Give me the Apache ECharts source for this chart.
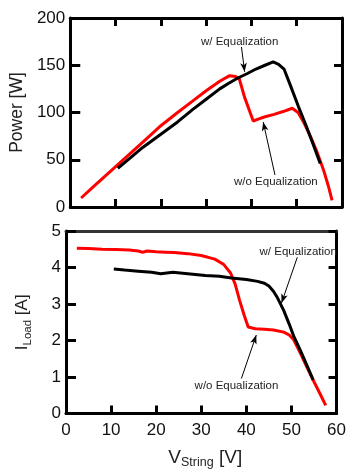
<!DOCTYPE html>
<html>
<head>
<meta charset="utf-8">
<script src="https://cdn.jsdelivr.net/npm/echarts@6/dist/echarts.min.js"></script>
<style>
  html, body {margin: 0; padding: 0; background: #fff;}
  #chart {width: 349px; height: 470px;}
</style>
</head>
<body>
<div id="chart"></div>
<script>
// power vs string voltage
const powerRedV = [2.4, 5, 8, 11, 14, 17, 20, 23.7, 27, 30, 33, 35.2, 36.5, 37.3, 38.5, 40.4, 41.5, 43, 45, 47, 49, 50.3, 51.5, 53, 54.5, 56, 57, 57.8];
const powerRedW = [9.5, 21, 34, 47, 60, 73, 86, 100, 112, 123, 133, 139, 138, 136, 116, 91, 93, 95.5, 98, 101, 104.5, 100, 90, 75, 58, 38, 22, 7];
const powerBlackV = [10.5, 13, 16, 20, 23.7, 27, 30, 33, 35, 37, 39, 41, 43, 44.8, 46, 47.2, 48.5, 50.4, 52, 53.5, 55.2];
const powerBlackW = [41, 51, 63, 77, 90, 103, 114, 125, 131, 136.5, 141, 146, 150, 153.5, 151, 146, 130, 106, 87, 68, 46];

// load current vs string voltage
const currRedV = [2.4, 5, 8, 11, 14, 16, 17, 18, 20, 22, 24, 27, 30, 33, 35, 36.5, 37.5, 38.5, 39.5, 40.4, 42, 44, 46, 48.3, 49.5, 50.5, 52, 53.5, 55, 56.5, 57.6];
const currRedA = [4.53, 4.52, 4.5, 4.49, 4.48, 4.45, 4.42, 4.45, 4.43, 4.42, 4.41, 4.38, 4.33, 4.23, 4.08, 3.85, 3.55, 3.1, 2.7, 2.37, 2.32, 2.31, 2.29, 2.23, 2.15, 2.02, 1.65, 1.25, 0.87, 0.5, 0.22];
const currBlackV = [10.6, 13, 16, 19, 21, 23.7, 27, 30.9, 34, 36.7, 40, 42.5, 44, 45, 46, 46.9, 48.3, 49.5, 50.5, 52, 53.5, 54.8];
const currBlackA = [3.96, 3.93, 3.9, 3.87, 3.83, 3.87, 3.83, 3.78, 3.76, 3.71, 3.67, 3.62, 3.57, 3.49, 3.35, 3.17, 2.82, 2.45, 2.12, 1.72, 1.3, 0.92];

const xTicks = [0, 10, 20, 30, 40, 50, 60];
const powerTicks = [0, 50, 100, 150, 200];
const currTicks = [0, 1, 2, 3, 4, 5];

const FONT = 'Liberation Sans, Arial, sans-serif';
const zip = (a, b) => a.map((v, i) => [v, b[i]]);

const chart = echarts.init(document.getElementById('chart'), null, {renderer: 'canvas'});

function xAxis(grid, pos, labels, ticks, color) {
  return {
    type: 'value', gridIndex: grid, position: pos,
    min: xTicks[0], max: xTicks[xTicks.length - 1], interval: 10,
    axisLine: {show: true, onZero: false, lineStyle: {color: color || '#000', width: 3}},
    axisTick: {show: ticks, inside: true, length: 8, lineStyle: {color: '#000', width: 3}},
    axisLabel: {show: labels, fontFamily: FONT, fontSize: 17, color: '#111', margin: 8},
    splitLine: {show: false},
  };
}
function yAxis(grid, pos, t, labels) {
  return {
    type: 'value', gridIndex: grid, position: pos,
    min: t[0], max: t[t.length - 1], interval: t[1] - t[0],
    axisLine: {show: true, onZero: false, lineStyle: {color: '#000', width: 3}},
    axisTick: {show: true, inside: true, length: pos === 'left' ? 10 : 8, lineStyle: {color: '#000', width: 3}},
    axisLabel: {show: labels, fontFamily: FONT, fontSize: 17, color: '#111', margin: 5},
    splitLine: {show: false},
  };
}

const arrow = (from, to) => [{coord: from}, {coord: to}];
const markLineStyle = {
  silent: true, animation: false, symbol: ['none', 'arrow'], symbolSize: [5, 9],
  lineStyle: {color: '#000', width: 1, type: 'solid'}, label: {show: false},
};
const note = (text, coord) => ({
  coord, symbol: 'circle', symbolSize: 0, value: text,
  label: {show: true, formatter: text, fontFamily: FONT, fontSize: 11.5, color: '#222', position: 'inside'},
});

const yTop = yAxis(0, 'left', powerTicks, true);
yTop.name = 'Power [W]';
yTop.nameLocation = 'middle';
yTop.nameGap = 33;
yTop.nameTextStyle = {fontFamily: FONT, fontSize: 17.5, color: '#222'};

const yBot = yAxis(1, 'left', currTicks, true);
yBot.name = '{i|I}{s|Load}{i| [A]}';
yBot.nameLocation = 'middle';
yBot.nameGap = 34;
yBot.nameTextStyle = {
  fontFamily: FONT, color: '#222',
  rich: {
    i: {fontFamily: FONT, fontSize: 17, color: '#222', lineHeight: 19},
    s: {fontFamily: FONT, fontSize: 11.5, color: '#222', padding: [10, 0, 0, 0], lineHeight: 11},
  },
};

const xBot = xAxis(1, 'bottom', true, true);
xBot.name = '{v|V}{s|String}{v| [V]}';
xBot.nameLocation = 'middle';
xBot.nameGap = 34;
xBot.nameTextStyle = {
  fontFamily: FONT, color: '#222',
  padding: [0, 0, 0, 8],
  rich: {
    v: {fontFamily: FONT, fontSize: 19, color: '#222', lineHeight: 20},
    s: {fontFamily: FONT, fontSize: 12.5, color: '#222', padding: [10, 0, 0, 0], lineHeight: 12},
  },
};

chart.setOption({
  animation: false,
  backgroundColor: '#fff',
  grid: [
    {left: 66, top: 18, width: 276, height: 189},
    {left: 66, top: 231, width: 276, height: 188},
  ],
  xAxis: [
    xAxis(0, 'bottom', false, true),
    xAxis(0, 'top', false, true),
    xBot,
    xAxis(1, 'top', false, false, '#333'),
  ],
  yAxis: [
    yTop,
    yAxis(0, 'right', powerTicks, false),
    yBot,
    yAxis(1, 'right', currTicks, false),
  ],
  series: [
    {
      name: 'w/o Equalization', type: 'line', xAxisIndex: 0, yAxisIndex: 0,
      data: zip(powerRedV, powerRedW), showSymbol: false,
      lineStyle: {color: '#ff0000', width: 3},
      markLine: Object.assign({data: [arrow([45.2, 33.9], [42.6, 90])]}, markLineStyle),
      markPoint: {silent: true, animation: false, data: [note('w/o Equalization', [45.4, 26.5])]},
    },
    {
      name: 'w/ Equalization', type: 'line', xAxisIndex: 0, yAxisIndex: 0,
      data: zip(powerBlackV, powerBlackW), showSymbol: false,
      lineStyle: {color: '#000', width: 3},
      markLine: Object.assign({data: [arrow([37.8, 169.3], [38.5, 143])]}, markLineStyle),
      markPoint: {silent: true, animation: false, data: [note('w/ Equalization', [37.4, 174.6])]},
    },
    {
      name: 'w/o Equalization', type: 'line', xAxisIndex: 2, yAxisIndex: 2,
      data: zip(currRedV, currRedA), showSymbol: false,
      lineStyle: {color: '#ff0000', width: 3},
      markLine: Object.assign({data: [arrow([38.9, 0.96], [42.2, 2.15])]}, markLineStyle),
      markPoint: {silent: true, animation: false, data: [note('w/o Equalization', [37.8, 0.77])]},
    },
    {
      name: 'w/ Equalization', type: 'line', xAxisIndex: 2, yAxisIndex: 2,
      data: zip(currBlackV, currBlackA), showSymbol: false,
      lineStyle: {color: '#000', width: 3},
      markLine: Object.assign({data: [arrow([51.3, 4.28], [47.8, 3.03])]}, markLineStyle),
      markPoint: {silent: true, animation: false, data: [note('w/ Equalization', [51.5, 4.44])]},
    },
  ],
});
</script>
</body>
</html>
